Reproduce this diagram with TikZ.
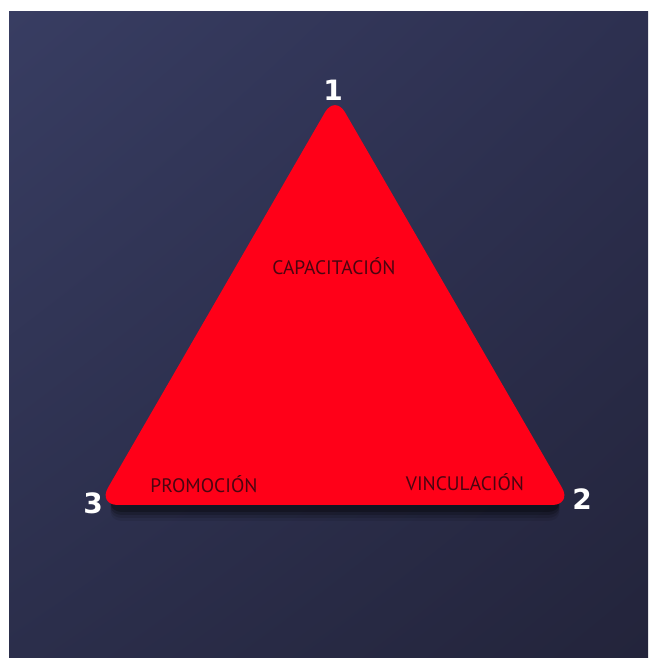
\documentclass[tikz,border=0pt]{standalone}
\usepackage{fontspec}
\setmainfont{PT Sans}
\newfontfamily\numfont{DejaVu Sans}
\usetikzlibrary{calc,shadings}
\definecolor{bgul}{HTML}{383D62}
\definecolor{bgur}{HTML}{2D3050}
\definecolor{bgll}{HTML}{2B2E4B}
\definecolor{bglr}{HTML}{23243B}
\definecolor{trired}{HTML}{FF0018}
\definecolor{txtred}{HTML}{4A0510}
\tikzset{
  vlabel/.style={font=\numfont\bfseries\fontsize{28}{30}\selectfont, text=white, inner sep=0pt},
  sidelabel/.style={font=\fontsize{19.5}{21}\selectfont, text=txtred, inner sep=0pt, anchor=base}
}
\begin{document}
\begin{tikzpicture}[x=1pt,y=1pt]
\useasboundingbox (0,0) rectangle (648,658);
\fill[white] (0,0) rectangle (648,658);
\shade[upper left=bgul, upper right=bgur, lower left=bgll, lower right=bglr] (9,0) rectangle (648,646);
% vertices (sharp)
\coordinate (A) at (335,563);
\coordinate (B) at (98,153);
\coordinate (C) at (572,153);
% shadow
\foreach \o/\s in {0.08/16, 0.12/13, 0.18/10, 0.25/7}{
  \fill[black, opacity=\o, rounded corners=20pt] ($(A)+(0,-\s)$) -- ($(C)+(-5,-\s)$) -- ($(B)+(5,-\s)$) -- cycle;
}
% triangle
\fill[trired, rounded corners=20pt] (A) -- (C) -- (B) -- cycle;
% labels
\node[vlabel] (n1) at (333,568) {1};
\node[vlabel] (n3) at (93,155) {3};
\node[vlabel] (n2) at (582,159) {2};
\node[sidelabel] (cap) at (334,383) {CAPACITACIÓN};
\node[sidelabel] (pro) at (204,165) {PROMOCIÓN};
\node[sidelabel] (vin) at (465,167) {VINCULACIÓN};
\end{tikzpicture}
\end{document}
